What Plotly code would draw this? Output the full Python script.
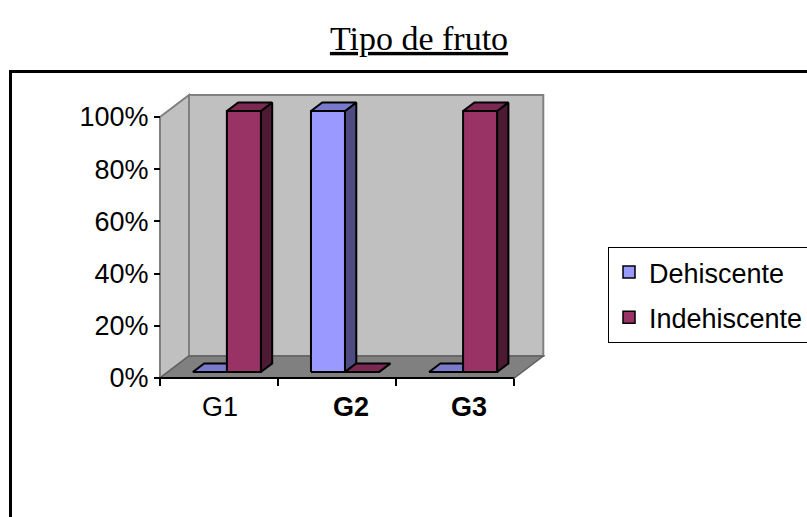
import plotly.graph_objects as go

# ---- data -------------------------------------------------------------
categories = ["G1", "G2", "G3"]
category_bold = [False, True, True]
series_names = ["Dehiscente", "Indehiscente"]
dehiscente = [0.0, 1.0, 0.0]
indehiscente = [1.0, 0.0, 1.0]
y_tick_values = [0.0, 0.2, 0.4, 0.6, 0.8, 1.0]
y_tick_labels = ["0%", "20%", "40%", "60%", "80%", "100%"]

series_values = [dehiscente, indehiscente]
front_colors = ["#9999FF", "#993366"]

# ---- page / plot geometry (pixels) -------------------------------------
W, H = 807, 517
L, R, T, B = 150, 560, 80, 392          # plot area (padded around the box)
OX, OY = 160, 378                        # front corner of the value/category axes
PX_PER_CAT = 118.1
PX_PER_UNIT = 261.0
WALL_DEPTH_PX = (29.0, 22.0)             # perspective offset of the back wall

x_range = [(L - OX) / PX_PER_CAT, (R - OX) / PX_PER_CAT]
y_range = [(OY - B) / PX_PER_UNIT, (OY - T) / PX_PER_UNIT]
DX = WALL_DEPTH_PX[0] / PX_PER_CAT
DY = WALL_DEPTH_PX[1] / PX_PER_UNIT

BAR_GAP = 0.212          # gap on each side of a category group
BAR_W = 0.288            # width of one bar, in category units
DEPTH_FRONT = 0.27       # bar front plane, as a fraction of the wall depth
DEPTH_BACK = 0.66        # bar back plane

FONT = "Liberation Sans, Arial, sans-serif"
FONT_SIZE = 27
N = len(categories)


def px_to_paper_x(px):
    return (px - L) / (R - L)


def px_to_paper_y(py):
    return (B - py) / (B - T)


def shade(hex_color, k):
    h = hex_color.lstrip("#")
    r, g, b = (int(h[i:i + 2], 16) for i in (0, 2, 4))
    return "#%02X%02X%02X" % (round(r * k), round(g * k), round(b * k))


fig = go.Figure()

# ---- bars: front, top and side faces, painted left to right ------------
fx, fy = DEPTH_FRONT * DX, DEPTH_FRONT * DY
bx, by = DEPTH_BACK * DX, DEPTH_BACK * DY
for i in range(N):
    for j, vals in enumerate(series_values):
        v = vals[i]
        x0 = i + BAR_GAP + j * BAR_W
        x1 = x0 + BAR_W
        base = front_colors[j]
        faces = [
            # side face (right)
            ([x1 + fx, x1 + bx, x1 + bx, x1 + fx, x1 + fx],
             [fy, by, v + by, v + fy, fy], shade(base, 0.5)),
            # top face
            ([x0 + fx, x1 + fx, x1 + bx, x0 + bx, x0 + fx],
             [v + fy, v + fy, v + by, v + by, v + fy], shade(base, 0.8)),
            # front face
            ([x0 + fx, x1 + fx, x1 + fx, x0 + fx, x0 + fx],
             [fy, fy, v + fy, v + fy, fy], base),
        ]
        for xs, ys, col in faces:
            fig.add_trace(go.Scatter(
                x=xs, y=ys, mode="lines", fill="toself", fillcolor=col,
                line=dict(color="black", width=2), showlegend=False,
                hoverinfo="skip"))

# legend entries
for name, col in zip(series_names, front_colors):
    fig.add_trace(go.Bar(x=[None], y=[None], name=name, legendgroup=name,
                         marker=dict(color=col, line=dict(color="black", width=1.5))))

# ---- walls and floor ---------------------------------------------------
wall_fill = "#C0C0C0"
floor_fill = "#808080"
edge = dict(color="#808080", width=2)
shapes = [
    # back wall
    dict(type="path", xref="x", yref="y", layer="below",
         path=f"M{DX},{DY} L{N + DX},{DY} L{N + DX},{1 + DY} L{DX},{1 + DY} Z",
         fillcolor=wall_fill, line=edge),
    # left side wall
    dict(type="path", xref="x", yref="y", layer="below",
         path=f"M0,0 L{DX},{DY} L{DX},{1 + DY} L0,1 Z",
         fillcolor=wall_fill, line=edge),
    # floor
    dict(type="path", xref="x", yref="y", layer="below",
         path=f"M0,0 L{N},0 L{N + DX},{DY} L{DX},{DY} Z",
         fillcolor=floor_fill, line=dict(color="#606060", width=1.5)),
    # category axis line
    dict(type="line", xref="x", yref="y", x0=0, x1=N, y0=0, y1=0,
         line=dict(color="black", width=2)),
    # outer chart frame
    dict(type="rect", xref="paper", yref="paper",
         x0=px_to_paper_x(10.5), x1=px_to_paper_x(W + 60),
         y0=px_to_paper_y(H + 60), y1=px_to_paper_y(71.5),
         line=dict(color="black", width=3), fillcolor="rgba(0,0,0,0)"),
]

# ---- category labels ---------------------------------------------------
label_shift = [1, 14, 14]
annotations = []
for i, (cat, bold) in enumerate(zip(categories, category_bold)):
    annotations.append(dict(
        x=i + 0.5, y=px_to_paper_y(407), xref="x", yref="paper",
        text=f"<b>{cat}</b>" if bold else cat, showarrow=False,
        xanchor="center", yanchor="middle", xshift=label_shift[i],
        font=dict(family=FONT, size=FONT_SIZE, color="black")))

fig.update_layout(
    width=W, height=H,
    margin=dict(l=L, r=W - R, t=T, b=H - B, pad=0, autoexpand=False),
    paper_bgcolor="white", plot_bgcolor="white",
    shapes=shapes, annotations=annotations,
    title=dict(text="Tipo de fruto", x=419 / W, xref="container", xanchor="center",
               y=1 - 38 / H, yref="container", yanchor="middle",
               font=dict(family="Liberation Serif, Times New Roman, serif", size=34,
                         color="black", lineposition="under")),
    xaxis=dict(range=x_range, type="linear", showgrid=False, zeroline=False,
               showline=False, showticklabels=False, automargin=False,
               tickvals=list(range(N + 1)), ticks="outside", ticklen=7,
               tickwidth=2, tickcolor="black",
               anchor="free", position=px_to_paper_y(OY)),
    yaxis=dict(range=y_range, type="linear", showgrid=False, zeroline=False,
               showline=False, tickvals=y_tick_values, ticktext=y_tick_labels,
               ticks="outside", ticklen=6, tickwidth=2, tickcolor="black",
               automargin=False,
               tickfont=dict(family=FONT, size=FONT_SIZE, color="black"),
               anchor="free", position=px_to_paper_x(OX)),
    legend=dict(x=px_to_paper_x(608), y=px_to_paper_y(247), xanchor="left", yanchor="top",
                bgcolor="white", bordercolor="black", borderwidth=1,
                font=dict(family=FONT, size=FONT_SIZE, color="black"),
                traceorder="grouped", tracegroupgap=7),
    showlegend=True,
)

fig.write_html("out.html")
